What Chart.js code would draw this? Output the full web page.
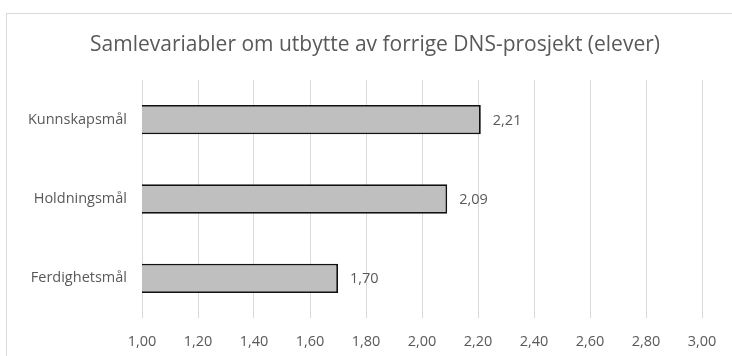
<!DOCTYPE html>
<html>
<head>
<meta charset="utf-8">
<script src="https://cdn.jsdelivr.net/npm/chart.js@4/dist/chart.umd.min.js"></script>
<style>
  html, body { margin: 0; padding: 0; background: #fff; }
  #wrap { position: relative; width: 732px; height: 356px; }
</style>
</head>
<body>
<div id="wrap"><canvas id="c" width="732" height="356"></canvas></div>
<script>
// Category names and mean scores
const categories = ["Kunnskapsmål", "Holdningsmål", "Ferdighetsmål"];
const values = [2.21, 2.09, 1.70];
const titleText = "Samlevariabler om utbytte av forrige DNS-prosjekt (elever)";

const textColor = "#595959";
const fontFamily = "'Open Sans', 'Liberation Sans', sans-serif";
const labelSize = 14.5;

const fmt = v => v.toFixed(2).replace(".", ",");

// Outer frame and centred chart title
const framePlugin = {
  id: "frame",
  beforeDraw(chart) {
    const ctx = chart.ctx;
    ctx.save();
    ctx.fillStyle = "#fff";
    ctx.fillRect(0, 0, chart.width, chart.height);
    ctx.strokeStyle = "#d9d9d9";
    ctx.lineWidth = 1;
    ctx.strokeRect(6.5, 13.5, 900, 500);
    ctx.fillStyle = textColor;
    ctx.font = "21px " + fontFamily;
    ctx.textAlign = "center";
    ctx.textBaseline = "middle";
    ctx.fillText(titleText, 375, 45);
    ctx.restore();
  }
};

// Value labels to the right of each bar
const valueLabels = {
  id: "valueLabels",
  afterDatasetsDraw(chart) {
    const ctx = chart.ctx;
    const meta = chart.getDatasetMeta(0);
    ctx.save();
    ctx.fillStyle = textColor;
    ctx.font = labelSize + "px " + fontFamily;
    ctx.textAlign = "left";
    ctx.textBaseline = "middle";
    meta.data.forEach((bar, i) => {
      ctx.fillText(fmt(chart.data.datasets[0].data[i]), bar.x + 12, bar.y + 1);
    });
    ctx.restore();
  }
};

new Chart(document.getElementById("c"), {
  type: "bar",
  data: {
    labels: categories,
    datasets: [{
      data: values,
      backgroundColor: "#bfbfbf",
      borderColor: "#111111",
      borderWidth: 1.8,
      borderSkipped: false,
      categoryPercentage: 1,
      barPercentage: 0.37
    }]
  },
  options: {
    indexAxis: "y",
    responsive: false,
    animation: false,
    layout: { padding: { left: 0, right: 30, top: 80, bottom: 0 } },
    plugins: {
      legend: { display: false },
      tooltip: { enabled: false },
      title: { display: false }
    },
    scales: {
      x: {
        min: 1,
        max: 3,
        ticks: {
          stepSize: 0.2,
          color: textColor,
          font: { family: fontFamily, size: labelSize },
          padding: 15,
          maxRotation: 0,
          callback: v => fmt(v)
        },
        grid: { color: "#d9d9d9", lineWidth: 1, drawTicks: false },
        border: { display: false },
        afterFit(scale) { scale.height = 38; }
      },
      y: {
        ticks: {
          color: textColor,
          font: { family: fontFamily, size: labelSize },
          padding: 15
        },
        grid: { display: false, drawTicks: false },
        border: { display: false },
        afterFit(scale) { scale.width = 142; }
      }
    }
  },
  plugins: [framePlugin, valueLabels]
});
</script>
</body>
</html>
